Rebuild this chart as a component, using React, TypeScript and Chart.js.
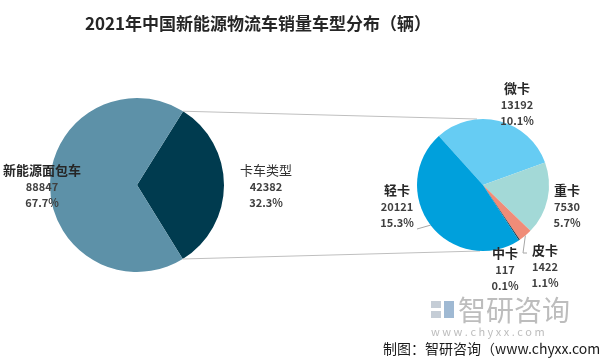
import React, { useEffect, useRef } from "react";
import { Chart, registerables } from "chart.js";

Chart.register(...registerables);

const TITLE = "2021年中国新能源物流车销量车型分布（辆）";
const SOURCE = "制图：智研咨询（www.chyxx.com）";
const WATERMARK = "智研咨询";
const WATERMARK_URL = "w w w . c h y x x . c o m";

const mainCategories = ["卡车类型", "新能源面包车"];
const mainValues = [42382, 88847];
const truckCategories = ["微卡", "重卡", "皮卡", "中卡", "轻卡"];
const truckValues = [13192, 7530, 1422, 117, 20121];

const mainColors = ["#003B4F", "#5D91A8"];
const truckColors = ["#66CCF3", "#A3D9D7", "#F08C78", "#1B3A4B", "#00A0DC"];

const FONT = '"Noto Sans CJK SC", "Noto Sans", sans-serif';
const TEXT_COLOR = "#404040";

const total = mainValues.reduce((a, b) => a + b, 0);
const pct = (v: number) => ((v / total) * 100).toFixed(1) + "%";

// label anchor offsets from pie centre (position config, not data)
const mainLabelOffsets = [
  [129, -15, false],
  [-95, -15, true],
];
const truckLabelOffsets = [
  [34, -97, true],
  [84, 5, true],
  [62, 65, true],
  [22, 68, true],
  [-86, 5, true],
];
const truckLeaders: (number[][] | null)[] = [null, null, [[40, 68], [44, 68]], null, [[-66, 44]]];

function drawLabels(chart: any, cats: string[], vals: number[], offsets: any[], leaders: any[] | null) {
  const ctx = chart.ctx;
  const meta = chart.getDatasetMeta(0);
  ctx.save();
  meta.data.forEach((arc: any, i: number) => {
    const cx = arc.x;
    const cy = arc.y;
    const r = arc.outerRadius;
    if (leaders && leaders[i]) {
      const mid = (arc.startAngle + arc.endAngle) / 2;
      ctx.beginPath();
      ctx.strokeStyle = "#A6A6A6";
      ctx.lineWidth = 1;
      ctx.moveTo(cx + r * Math.cos(mid), cy + r * Math.sin(mid));
      leaders[i].forEach((p: number[]) => ctx.lineTo(cx + p[0], cy + p[1]));
      ctx.stroke();
    }
    const [dx, dy, bold] = offsets[i];
    const x = cx + dx;
    const y = cy + dy;
    ctx.textAlign = "center";
    ctx.textBaseline = "middle";
    ctx.fillStyle = bold ? "#262626" : "#333333";
    ctx.font = `${bold ? "bold " : ""}13px ${FONT}`;
    ctx.fillText(cats[i], x, y);
    ctx.fillStyle = TEXT_COLOR;
    ctx.font = `bold 11px ${FONT}`;
    ctx.fillText(String(vals[i]), x, y + 17);
    ctx.fillText(pct(vals[i]), x, y + 33);
  });
  ctx.restore();
}

export default function App() {
  const leftRef = useRef<HTMLCanvasElement>(null);
  const rightRef = useRef<HTMLCanvasElement>(null);

  useEffect(() => {
    document.body.style.margin = "0";
    let leftChart: any = null;

    leftChart = new Chart(leftRef.current!, {
      type: "pie",
      data: {
        labels: mainCategories,
        datasets: [
          {
            data: mainValues,
            backgroundColor: mainColors,
            borderWidth: 0,
          },
        ],
      },
      options: {
        responsive: false,
        animation: false,
        rotation: 32,
        layout: { padding: { left: 50, right: 376, top: 98, bottom: 88 } },
        plugins: { legend: { display: false }, tooltip: { enabled: false } },
      },
      plugins: [
        {
          id: "mainLabels",
          afterDraw(chart: any) {
            drawLabels(chart, mainCategories, mainValues, mainLabelOffsets, null);
          },
        },
      ],
    } as any);

    const rightChart = new Chart(rightRef.current!, {
      type: "pie",
      data: {
        labels: truckCategories,
        datasets: [
          {
            data: truckValues,
            backgroundColor: truckColors,
            borderWidth: 0,
          },
        ],
      },
      options: {
        responsive: false,
        animation: false,
        rotation: -42,
        layout: { padding: { left: 417, right: 51, top: 119, bottom: 109 } },
        plugins: { legend: { display: false }, tooltip: { enabled: false } },
      },
      plugins: [
        {
          id: "connectorsAndText",
          beforeDatasetsDraw(chart: any) {
            const ctx = chart.ctx;
            const la = leftChart.getDatasetMeta(0).data[0];
            const ra = chart.getDatasetMeta(0).data[0];
            ctx.save();
            ctx.strokeStyle = "#BFBFBF";
            ctx.lineWidth = 1;
            ctx.beginPath();
            ctx.moveTo(la.x + la.outerRadius * Math.cos(la.startAngle), la.y + la.outerRadius * Math.sin(la.startAngle));
            ctx.lineTo(ra.x - 6, ra.y - ra.outerRadius);
            ctx.moveTo(la.x + la.outerRadius * Math.cos(la.endAngle), la.y + la.outerRadius * Math.sin(la.endAngle));
            ctx.lineTo(ra.x - 3, ra.y + ra.outerRadius);
            ctx.stroke();

            // title
            ctx.fillStyle = "#262626";
            ctx.font = `bold 17px ${FONT}`;
            ctx.textAlign = "center";
            ctx.textBaseline = "middle";
            ctx.fillText(TITLE, 258, 24);

            // watermark
            ctx.fillStyle = "#C5CDD6";
            ctx.fillRect(431, 301, 10, 7);
            ctx.fillRect(431, 311, 10, 7);
            ctx.fillStyle = "#9FB9D3";
            ctx.fillRect(444, 301, 10, 17);
            ctx.fillStyle = "#BDBDBD";
            ctx.font = `28px ${FONT}`;
            ctx.textAlign = "left";
            ctx.fillText(WATERMARK, 458, 310);
            ctx.font = `11px ${FONT}`;
            ctx.fillText(WATERMARK_URL, 431, 332);

            // source
            ctx.fillStyle = "#1a1a1a";
            ctx.font = `14px ${FONT}`;
            ctx.fillText(SOURCE, 383, 349);
            ctx.restore();
          },
          afterDraw(chart: any) {
            drawLabels(chart, truckCategories, truckValues, truckLabelOffsets, truckLeaders);
          },
        },
      ],
    } as any);

    return () => {
      rightChart.destroy();
      leftChart.destroy();
    };
  }, []);

  return (
    <div style={{ position: "relative", width: 600, height: 360, background: "#fff" }}>
      <canvas ref={leftRef} width={600} height={360} style={{ position: "absolute", left: 0, top: 0 }} />
      <canvas ref={rightRef} width={600} height={360} style={{ position: "absolute", left: 0, top: 0 }} />
    </div>
  );
}
